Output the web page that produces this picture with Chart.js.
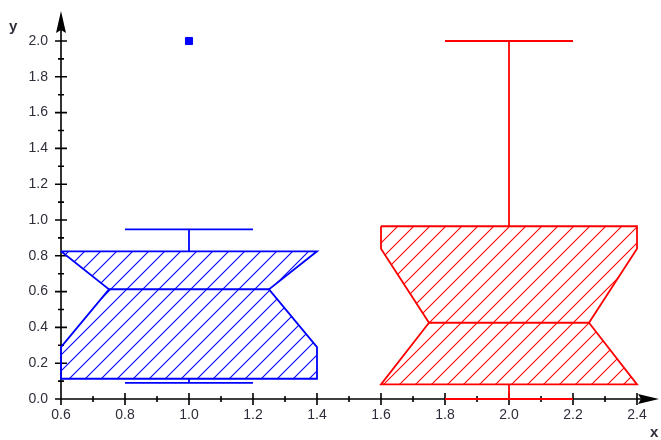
<!DOCTYPE html>
<html>
<head>
<meta charset="utf-8">
<script src="https://cdn.jsdelivr.net/npm/chart.js@4.4.1/dist/chart.umd.min.js"></script>
<style>
  html, body { margin: 0; padding: 0; background: #fff; }
  #wrap { width: 661px; height: 440px; }
</style>
</head>
<body>
<div id="wrap"><canvas id="boxChart"></canvas></div>
<script>
// box plot values
const groupX = [1.0, 2.0];
const groupColor = ['#0000ff', '#ff0000'];
const lowerWhisker = [0.09, 0.0];
const lowerQuartile = [0.113, 0.082];
const notchLow = [0.29, 0.082];
const median = [0.613, 0.426];
const notchHigh = [0.825, 0.84];
const upperQuartile = [0.825, 0.965];
const upperWhisker = [0.948, 2.0];
const outlierX = [1.0];
const outlierY = [2.0];

// axis ticks
const xTickValues = [0.6, 0.8, 1.0, 1.2, 1.4, 1.6, 1.8, 2.0, 2.2, 2.4];
const xMinorValues = [0.7, 0.9, 1.1, 1.3, 1.5, 1.7, 1.9, 2.1, 2.3];
const yTickValues = [0.0, 0.2, 0.4, 0.6, 0.8, 1.0, 1.2, 1.4, 1.6, 1.8, 2.0];
const yMinorValues = [0.1, 0.3, 0.5, 0.7, 0.9, 1.1, 1.3, 1.5, 1.7, 1.9];

const boxHalf = 0.4, notchHalf = 0.25, capHalf = 0.2;
const lineW = 1.8;

function hatch(color) {
  const c = document.createElement('canvas');
  c.width = 16; c.height = 16;
  const g = c.getContext('2d');
  g.strokeStyle = color;
  g.lineWidth = 1.1;
  g.beginPath();
  g.moveTo(-2, 18); g.lineTo(18, -2);
  g.moveTo(-2, 2); g.lineTo(2, -2);
  g.moveTo(14, 18); g.lineTo(18, 14);
  g.stroke();
  return g.createPattern(c, 'repeat');
}

function boxShape(i) {
  const c = groupX[i];
  return [
    { x: c - boxHalf, y: upperQuartile[i] },
    { x: c + boxHalf, y: upperQuartile[i] },
    { x: c + boxHalf, y: notchHigh[i] },
    { x: c + notchHalf, y: median[i] },
    { x: c + boxHalf, y: notchLow[i] },
    { x: c + boxHalf, y: lowerQuartile[i] },
    { x: c - boxHalf, y: lowerQuartile[i] },
    { x: c - boxHalf, y: notchLow[i] },
    { x: c - notchHalf, y: median[i] },
    { x: c - boxHalf, y: notchHigh[i] },
    { x: c - boxHalf, y: upperQuartile[i] }
  ];
}

function segment(data, color) {
  return {
    data: data,
    showLine: true,
    borderColor: color,
    borderWidth: lineW,
    pointRadius: 0,
    fill: false,
    clip: false
  };
}

const datasets = [];
groupX.forEach(function (c, i) {
  const color = groupColor[i];
  datasets.push({
    data: boxShape(i),
    showLine: true,
    borderColor: color,
    borderWidth: lineW,
    backgroundColor: hatch(color),
    fill: 'shape',
    pointRadius: 0,
    clip: false
  });
  datasets.push(segment([{ x: c - notchHalf, y: median[i] }, { x: c + notchHalf, y: median[i] }], color));
  datasets.push(segment([{ x: c, y: upperQuartile[i] }, { x: c, y: upperWhisker[i] }], color));
  datasets.push(segment([{ x: c - capHalf, y: upperWhisker[i] }, { x: c + capHalf, y: upperWhisker[i] }], color));
  datasets.push(segment([{ x: c, y: lowerQuartile[i] }, { x: c, y: lowerWhisker[i] }], color));
  datasets.push(segment([{ x: c - capHalf, y: lowerWhisker[i] }, { x: c + capHalf, y: lowerWhisker[i] }], color));
});
datasets.push({
  data: outlierX.map(function (x, k) { return { x: x, y: outlierY[k] }; }),
  showLine: false,
  pointStyle: 'rect',
  pointRadius: 5,
  borderWidth: 1,
  borderColor: groupColor[0],
  backgroundColor: groupColor[0],
  clip: false
});

// axis lines, arrows, tick marks and axis names
const axesPlugin = {
  id: 'mupadAxes',
  beforeDatasetsDraw(chart) {
    const ctx = chart.ctx;
    const xs = chart.scales.x, ys = chart.scales.y;
    const x0 = xs.getPixelForValue(0.6);
    const y0 = ys.getPixelForValue(0);
    ctx.save();
    ctx.strokeStyle = '#000';
    ctx.fillStyle = '#000';
    ctx.lineWidth = 1.6;
    ctx.beginPath();
    ctx.moveTo(x0, y0); ctx.lineTo(x0, 16);
    ctx.moveTo(x0, y0); ctx.lineTo(655, y0);
    yTickValues.forEach(function (v) {
      const p = ys.getPixelForValue(v);
      ctx.moveTo(x0 - 6, p); ctx.lineTo(x0 + 6, p);
    });
    yMinorValues.forEach(function (v) {
      const p = ys.getPixelForValue(v);
      ctx.moveTo(x0 - 3, p); ctx.lineTo(x0 + 3, p);
    });
    xTickValues.forEach(function (v) {
      const p = xs.getPixelForValue(v);
      ctx.moveTo(p, y0 - 6); ctx.lineTo(p, y0 + 6);
    });
    xMinorValues.forEach(function (v) {
      const p = xs.getPixelForValue(v);
      ctx.moveTo(p, y0 - 3); ctx.lineTo(p, y0 + 3);
    });
    ctx.stroke();

    // arrow heads
    ctx.beginPath();
    ctx.moveTo(x0, 11);
    ctx.lineTo(x0 + 5, 33);
    ctx.lineTo(x0, 30);
    ctx.lineTo(x0 - 5, 33);
    ctx.closePath();
    ctx.fill();
    ctx.beginPath();
    ctx.moveTo(659, y0);
    ctx.lineTo(638, y0 - 5);
    ctx.lineTo(641, y0);
    ctx.lineTo(638, y0 + 5);
    ctx.closePath();
    ctx.fill();

    ctx.fillStyle = '#2e2e3a';
    ctx.font = 'bold 15px "Liberation Sans", Arial, sans-serif';
    ctx.textBaseline = 'alphabetic';
    ctx.textAlign = 'left';
    ctx.fillText('y', 9, 31);
    ctx.fillText('x', 650, 437);
    ctx.restore();
  }
};

const tickFont = { family: '"Liberation Sans", Arial, sans-serif', size: 14 };

new Chart(document.getElementById('boxChart'), {
  type: 'scatter',
  data: { datasets: datasets },
  options: {
    responsive: true,
    maintainAspectRatio: false,
    animation: false,
    layout: { padding: { top: 41, right: 24, left: 0, bottom: 0 } },
    plugins: { legend: { display: false }, tooltip: { enabled: false } },
    scales: {
      x: {
        type: 'linear',
        min: 0.6,
        max: 2.4,
        border: { display: false },
        grid: { display: false, drawTicks: false },
        afterBuildTicks: function (s) { s.ticks = xTickValues.map(function (v) { return { value: v }; }); },
        afterFit: function (s) { s.height = 41; },
        ticks: {
          autoSkip: false,
          maxRotation: 0,
          padding: 8,
          color: '#2e2e3a',
          font: tickFont,
          callback: function (v) { return Number(v).toFixed(1); }
        }
      },
      y: {
        type: 'linear',
        min: 0,
        max: 2.0,
        border: { display: false },
        grid: { display: false, drawTicks: false },
        afterBuildTicks: function (s) { s.ticks = yTickValues.map(function (v) { return { value: v }; }); },
        afterFit: function (s) { s.width = 61; },
        ticks: {
          autoSkip: false,
          padding: 13,
          color: '#2e2e3a',
          font: tickFont,
          callback: function (v) { return Number(v).toFixed(1); }
        }
      }
    }
  },
  plugins: [axesPlugin]
});
</script>
</body>
</html>
